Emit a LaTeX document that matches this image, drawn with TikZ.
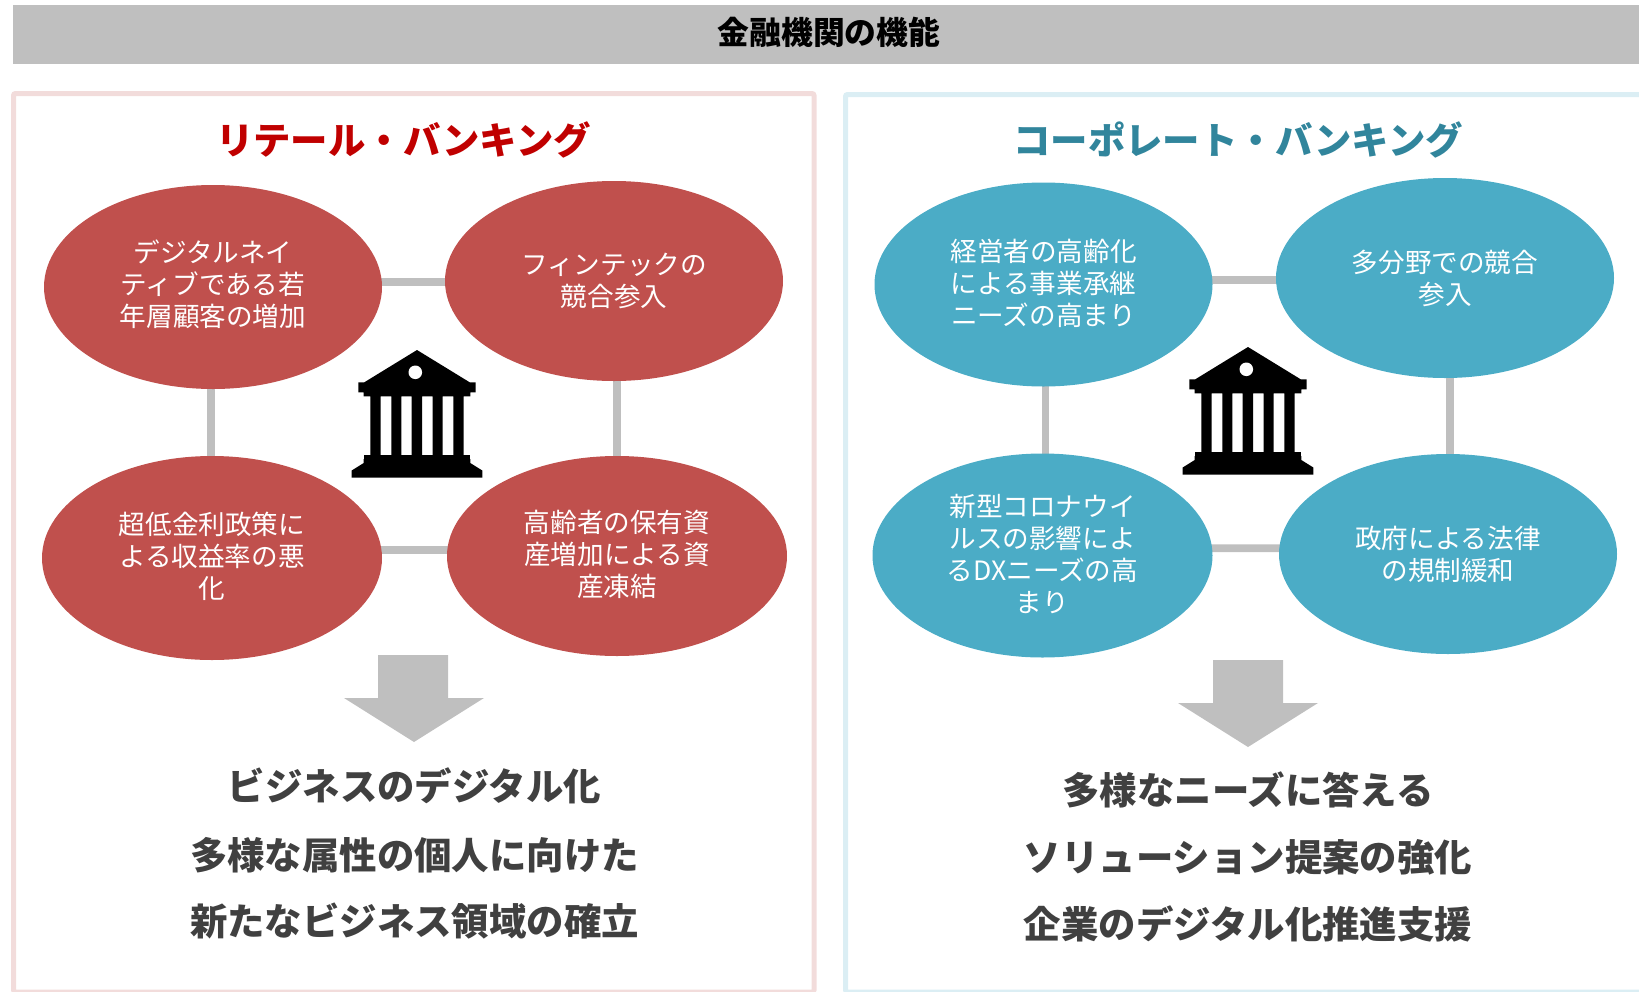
\documentclass[tikz,border=0pt]{standalone}
\usepackage{fontspec}
\setmainfont{Noto Sans CJK JP}
\usetikzlibrary{shapes.geometric,backgrounds,calc}
\definecolor{barGray}{HTML}{BFBFBF}
\definecolor{redFill}{HTML}{C0504D}
\definecolor{blueFill}{HTML}{4BACC6}
\definecolor{redFrame}{HTML}{F2DCDB}
\definecolor{blueFrame}{HTML}{DBEEF4}
\definecolor{redHead}{HTML}{C00000}
\definecolor{blueHead}{HTML}{31859C}
\definecolor{darkText}{HTML}{404040}
\tikzset{
  x=0.5pt,y=-0.5pt,
  bubble/.style={ellipse,minimum width=169pt,minimum height=100pt,inner sep=0pt,text=white,align=center,font=\fontsize{13.3}{16}\selectfont},
  redbubble/.style={bubble,fill=redFill},
  bluebubble/.style={bubble,fill=blueFill},
  tall/.style={minimum height=102pt},
  wide/.style={minimum width=170pt},
  lift/.style={text depth=#1},
  link/.style={draw=barGray,line width=3.8pt},
  heading/.style={font=\fontsize{18.7}{22}\selectfont\bfseries,inner sep=0pt},
  result/.style={font=\fontsize{18.7}{22}\selectfont\bfseries,text=darkText,inner sep=0pt},
  framebox/.style={line width=2.5pt,rounded corners=1pt},
  bigarrow/.style={fill=barGray},
  bankicon/.pic={
    \fill[black] (0,0) -- (52.7,32.3) -- (58.7,32.3) -- (58.7,42.3) -- (53.3,42.3) -- (53.3,46.3) -- (46.7,46.3)
      -- (46.7,105) -- (36.3,105) -- (36.3,46.3) -- (25.7,46.3) -- (25.7,105) -- (15.7,105) -- (15.7,46.3)
      -- (5,46.3) -- (5,105) -- (-5.3,105) -- (-5.3,46.3) -- (-15.7,46.3) -- (-15.7,105) -- (-25.7,105) -- (-25.7,46.3)
      -- (-36.3,46.3) -- (-36.3,105) -- (-46.7,105) -- (-46.7,46.3) -- (-53.3,46.3) -- (-53.3,42.3) -- (-58.7,42.3) -- (-58.7,32.3) -- (-52.7,32.3) -- cycle;
    \fill[black] (-53.3,105) rectangle (53.3,109) ;
    \fill[black] (-53.3,109) -- (53.3,109) -- (53.3,113) -- (65.3,120.5) -- (65.3,127.5) -- (-65.3,127.5) -- (-65.3,120.5) -- (-53.3,113) -- cycle;
    \fill[white] (-1.7,22.3) circle (3.4pt);
  }
}
\begin{document}
\begin{tikzpicture}
\clip (0,0) rectangle (1639,991);
% top bar
\fill[barGray] (13,5) rectangle (1639,64);
\node[font=\fontsize{15.9}{19}\selectfont\bfseries,text=black,inner sep=0pt] (maintitle) at (829,32) {金融機関の機能};
% frames
\draw[framebox,draw=redFrame] (13.5,93.5) rectangle (814,992);
\draw[framebox,draw=blueFrame] (845.5,94.5) rectangle (1660,992);
% headings
\node[heading,text=redHead] (retailhead) at (403.5,140) {リテール・バンキング};
\node[heading,text=blueHead] (corphead) at (1238,140) {コーポレート・バンキング};
% left ellipses
\node[redbubble,tall,lift=4pt] (ltl) at (213,287) {デジタルネイ\\ティブである若\\年層顧客の増加};
\node[redbubble] (ltr) at (614,281) {フィンテックの\\競合参入};
\node[redbubble,tall,wide,lift=2.4pt] (lbl) at (212,558) {超低金利政策に\\よる収益率の悪\\化};
\node[redbubble,wide,lift=2.4pt] (lbr) at (617,556) {高齢者の保有資\\産増加による資\\産凍結};
% right ellipses
\node[bluebubble,tall,lift=2.6pt] (rtl) at (1043.5,284.5) {経営者の高齢化\\による事業承継\\ニーズの高まり};
\node[bluebubble] (rtr) at (1445,278) {多分野での競合\\参入};
\node[bluebubble,tall,wide,lift=2.4pt] (rbl) at (1042.5,555.5) {新型コロナウイ\\ルスの影響によ\\るDXニーズの高\\まり};
\node[bluebubble] (rbr) at (1448,554) {政府による法律\\の規制緩和};
% connectors
\begin{pgfonlayer}{background}
\draw[link] ([yshift=-0.5pt]ltl.center |- ltr.center) -- ([yshift=-0.5pt]ltr.center);
\draw[link] ([xshift=-0.5pt]lbl.center) -- ([xshift=-0.5pt]lbl.center |- ltl.center);
\draw[link] (lbr.center) -- (lbr.center |- ltr.center);
\draw[link] ([yshift=4pt]lbl.center) -- ([yshift=3pt]lbr.center);
\draw[link] ([yshift=-1pt]rtl.center |- rtr.center) -- ([yshift=-1pt]rtr.center);
\draw[link] ([xshift=1.5pt]rbl.center) -- ([xshift=1.5pt]rbl.center |- rtl.center);
\draw[link] ([xshift=1pt]rbr.center) -- ([xshift=1pt]rbr.center |- rtr.center);
\draw[link] ([yshift=3.5pt]rbl.center) -- ([yshift=3pt]rbr.center);
\end{pgfonlayer}
% icons
\pic at (417,350) {bankicon};
\pic at (1248,347) {bankicon};
% arrows
\path[bigarrow] (378,655) -- (448,655) -- (448,698) -- (484,698) -- (414,742) -- (344,698) -- (378,698) -- cycle;
\path[bigarrow] (1213,660) -- (1283,660) -- (1283,703) -- (1318,703) -- (1248,747) -- (1178,703) -- (1213,703) -- cycle;
% results
\node[result] (la) at (414.5,786) {ビジネスのデジタル化};
\node[result] (lb) at (414.5,855) {多様な属性の個人に向けた};
\node[result] (lc) at (414.5,921) {新たなビジネス領域の確立};
\node[result] (ra) at (1248,790) {多様なニーズに答える};
\node[result] (rb) at (1248,857) {ソリューション提案の強化};
\node[result] (rc) at (1248,924) {企業のデジタル化推進支援};
\end{tikzpicture}
\end{document}
